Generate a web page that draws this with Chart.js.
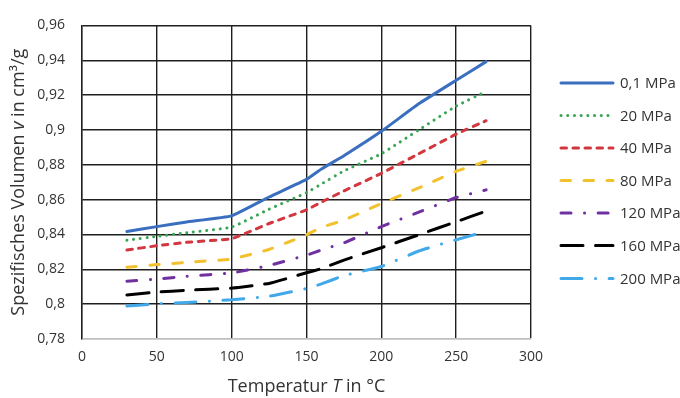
<!DOCTYPE html>
<html>
<head>
<meta charset="utf-8">
<script src="https://cdn.jsdelivr.net/npm/chart.js@4/dist/chart.umd.min.js"></script>
<style>
html,body{margin:0;padding:0;background:#fff;}
#wrap{width:680px;height:398px;position:relative;}
</style>
</head>
<body>
<div id="wrap"><canvas id="c" width="680" height="398"></canvas></div>
<script>
// ---- data ----
const temps = [30, 50, 70, 100, 125, 150, 160, 175, 200, 225, 250, 270];
const p01  = [0.8417, 0.8445, 0.8472, 0.8507, 0.8615, 0.8716, 0.8776, 0.8852, 0.8992, 0.9150, 0.9285, 0.9392];
const p20  = [0.8367, 0.8389, 0.8410, 0.8442, 0.8545, 0.8640, 0.8690, 0.8765, 0.8863, 0.9000, 0.9137, 0.9221];
const p40  = [0.8311, 0.8335, 0.8355, 0.8376, 0.8463, 0.8541, 0.8586, 0.8650, 0.8751, 0.8863, 0.8976, 0.9053];
const p80  = [0.8212, 0.8227, 0.8240, 0.8259, 0.8314, 0.8398, 0.8441, 0.8482, 0.8578, 0.8667, 0.8763, 0.8820];
const p120 = [0.8132, 0.8144, 0.8160, 0.8179, 0.8222, 0.8281, 0.8311, 0.8352, 0.8445, 0.8528, 0.8612, 0.8656];
const p160 = [0.8053, 0.8069, 0.8080, 0.8092, 0.8119, 0.8180, 0.8204, 0.8253, 0.8324, 0.8398, 0.8473, 0.8534];
const p200 = [0.7989, 0.8002, 0.8010, 0.8025, 0.8045, 0.8090, 0.8116, 0.8164, 0.8216, 0.8305, 0.8370, 0.8417];
const seriesLabels = ['0,1 MPa', '20 MPa', '40 MPa', '80 MPa', '120 MPa', '160 MPa', '200 MPa'];
const xTickLabels = ['0', '50', '100', '150', '200', '250', '300'];
const yTickLabels = ['0,78', '0,8', '0,82', '0,84', '0,86', '0,88', '0,9', '0,92', '0,94', '0,96'];
const xTitleParts = [['Temperatur ', false], ['T', true], [' in °C', false]];
const yTitleParts = [['Spezifisches Volumen ', false], ['v', true], [' in cm³/g', false]];

const FONT = '"Open Sans", "Noto Sans", sans-serif';
const TXT = '#333333';

const styles = [
  {color: '#3A6FC0', dash: [], cap: 'round'},
  {color: '#3AA655', dash: [0.1, 6.6], cap: 'round'},
  {color: '#D2373F', dash: [5.5, 6.5], cap: 'round'},
  {color: '#F2C12E', dash: [9.5, 13.5], cap: 'round'},
  {color: '#7030A0', dash: [10, 13.5, 0.1, 13.5], cap: 'round'},
  {color: '#000000', dash: [22, 12.5], cap: 'round'},
  {color: '#41A9EA', dash: [21, 13.5, 0.1, 13.5], cap: 'round'}
];
const allSeries = [p01, p20, p40, p80, p120, p160, p200];

const datasets = allSeries.map((vals, i) => ({
  label: seriesLabels[i],
  data: temps.map((t, k) => ({x: t, y: vals[k]})),
  borderColor: styles[i].color,
  backgroundColor: styles[i].color,
  borderWidth: 3,
  borderDash: styles[i].dash,
  borderCapStyle: styles[i].cap,
  borderJoinStyle: 'round',
  pointRadius: 0,
  tension: 0.1,
  fill: false
}));

function drawParts(ctx, parts, size, x, y, align) {
  let total = 0;
  const widths = parts.map(([s, it]) => {
    ctx.font = (it ? 'italic ' : '') + size + 'px ' + FONT;
    const w = ctx.measureText(s).width; total += w; return w;
  });
  let cx = align === 'center' ? x - total / 2 : x;
  parts.forEach(([s, it], i) => {
    ctx.font = (it ? 'italic ' : '') + size + 'px ' + FONT;
    ctx.fillText(s, cx, y);
    cx += widths[i];
  });
}

const extras = {
  id: 'extras',
  afterDraw(chart) {
    const ctx = chart.ctx;
    const ca = chart.chartArea;
    ctx.save();
    ctx.fillStyle = TXT;
    ctx.textAlign = 'left';
    ctx.textBaseline = 'alphabetic';
    drawParts(ctx, xTitleParts, 18, (ca.left + ca.right) / 2, 392, 'center');
    ctx.save();
    ctx.translate(24, (ca.top + ca.bottom) / 2);
    ctx.rotate(-Math.PI / 2);
    drawParts(ctx, yTitleParts, 18, 0, 0, 'center');
    ctx.restore();
    const ys = [83, 115.5, 148, 180.5, 213, 245.5, 278.5];
    chart.data.datasets.forEach((ds, i) => {
      const y = ys[i];
      ctx.save();
      ctx.strokeStyle = ds.borderColor;
      ctx.lineWidth = ds.borderWidth;
      ctx.lineCap = ds.borderCapStyle;
      ctx.setLineDash(ds.borderDash);
      ctx.beginPath();
      ctx.moveTo(561, y);
      ctx.lineTo(613, y);
      ctx.stroke();
      ctx.restore();
      ctx.font = '15px ' + FONT;
      ctx.textBaseline = 'middle';
      ctx.fillStyle = TXT;
      ctx.fillText(ds.label, 620, y + 1);
    });
    ctx.restore();
  }
};

const lookup = (labels, v, step, min) => labels[Math.round((v - min) / step)];

new Chart(document.getElementById('c'), {
  type: 'line',
  data: {datasets},
  plugins: [extras],
  options: {
    responsive: false,
    animation: false,
    devicePixelRatio: 1,
    layout: {padding: {left: 0, right: 149, top: 16, bottom: 0}},
    plugins: {legend: {display: false}, tooltip: {enabled: false}, title: {display: false}},
    scales: {
      x: {
        type: 'linear', min: 0, max: 300,
        afterFit: s => { s.height = 59; },
        ticks: {stepSize: 50, padding: 10, color: TXT, font: {family: FONT, size: 14},
                callback: v => lookup(xTickLabels, v, 50, 0), maxRotation: 0},
        grid: {color: '#1f1f1f', lineWidth: 1.4, drawTicks: false},
        border: {display: true, color: '#BFBFBF', width: 1.5}
      },
      y: {
        type: 'linear', min: 0.78, max: 0.96,
        afterFit: s => { s.width = 82; },
        ticks: {stepSize: 0.02, padding: 17, color: TXT, font: {family: FONT, size: 14},
                callback: v => lookup(yTickLabels, v, 0.02, 0.78)},
        grid: {color: ctx => (Math.abs(ctx.tick.value - 0.78) < 1e-6 ? '#BFBFBF' : '#1f1f1f'),
               lineWidth: 1.4, drawTicks: false},
        border: {display: true, color: '#1f1f1f', width: 1.4}
      }
    }
  }
});
</script>
</body>
</html>
